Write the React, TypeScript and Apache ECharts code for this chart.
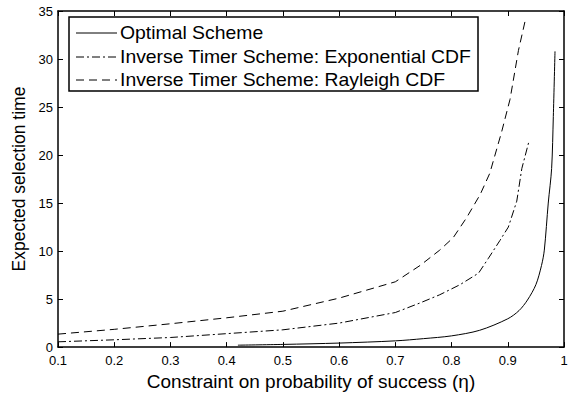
import React, { useEffect, useRef } from "react";
import * as echarts from "echarts";

const xTicks = [0.1, 0.2, 0.3, 0.4, 0.5, 0.6, 0.7, 0.8, 0.9, 1];
const yTicks = [0, 5, 10, 15, 20, 25, 30, 35];

const seriesNames = [
  "Optimal Scheme",
  "Inverse Timer Scheme: Exponential CDF",
  "Inverse Timer Scheme: Rayleigh CDF",
];

const optimalX = [0.42, 0.5, 0.6, 0.7, 0.75, 0.8, 0.85, 0.9, 0.92, 0.935, 0.95, 0.96, 0.965, 0.972, 0.978, 0.981, 0.984];
const optimalY = [0.2, 0.28, 0.42, 0.65, 0.88, 1.17, 1.75, 2.95, 3.8, 4.9, 6.5, 8.5, 10.1, 15, 18.6, 24, 30.8];

const expX = [0.1, 0.2, 0.3, 0.4, 0.5, 0.6, 0.7, 0.744, 0.779, 0.815, 0.848, 0.865, 0.886, 0.901, 0.916, 0.925, 0.938];
const expY = [0.55, 0.76, 1.0, 1.4, 1.8, 2.5, 3.6, 4.6, 5.45, 6.5, 7.7, 9.2, 11.1, 12.5, 15.2, 18.6, 21.5];

const rayX = [0.1, 0.2, 0.3, 0.4, 0.5, 0.6, 0.7, 0.744, 0.779, 0.803, 0.827, 0.851, 0.868, 0.889, 0.904, 0.919, 0.931];
const rayY = [1.35, 1.85, 2.43, 3.05, 3.74, 5.1, 6.8, 8.5, 10.1, 11.4, 13.5, 15.9, 18.1, 22.4, 25.8, 30.9, 34.0];

const FONT = "'Liberation Sans', Arial, Helvetica, sans-serif";

const zip = (xs: number[], ys: number[]) => xs.map((x, i) => [x, ys[i]]);

const dashStyles: (string | number[])[] = ["solid", [8, 3, 2, 3], [8, 5]];

export default function App() {
  const ref = useRef<HTMLDivElement>(null);
  useEffect(() => {
    if (!ref.current) return;
    const chart = echarts.init(ref.current, null, { renderer: "svg" });
    const axisCommon = {
      type: "value" as const,
      axisLine: { show: true, onZero: false, lineStyle: { color: "#000", width: 1.5 } },
      axisTick: { show: true, inside: true, length: 5, lineStyle: { color: "#000", width: 1 } },
      splitLine: { show: false },
    };
    const legendX = 69, legendY = 17, legendW = 409, legendH = 74;
    const rowY = [33, 57, 80];
    const legendGraphics: any[] = [
      {
        type: "rect",
        shape: { x: legendX, y: legendY, width: legendW, height: legendH },
        style: { fill: "#fff", stroke: "#000", lineWidth: 1.5 },
        z: 100,
      },
    ];
    seriesNames.forEach((name, i) => {
      legendGraphics.push({
        type: "line",
        shape: { x1: 76, y1: rowY[i], x2: 117, y2: rowY[i] },
        style: { stroke: "#000", lineWidth: 1, lineDash: dashStyles[i] === "solid" ? null : dashStyles[i] },
        z: 101,
      });
      legendGraphics.push({
        type: "text",
        x: 120,
        y: rowY[i],
        scaleX: 1.077,
        style: { text: name, font: `18px ${FONT}`, fill: "#000", verticalAlign: "middle", align: "left" },
        z: 101,
      });
    });
    const datasets = [zip(optimalX, optimalY), zip(expX, expY), zip(rayX, rayY)];
    chart.setOption({
      animation: false,
      textStyle: { fontFamily: FONT },
      grid: { left: 58, right: 17, top: 11, bottom: 45, show: false },
      xAxis: [
        {
          ...axisCommon,
          min: xTicks[0],
          max: xTicks[xTicks.length - 1],
          interval: 0.1,
          position: "bottom",
          axisLabel: {
            color: "#000",
            fontSize: 13,
            margin: 7,
            fontFamily: FONT,
            formatter: (v: number) => String(Math.round(v * 10) / 10),
          },
          name: "Constraint on probability of success (η)",
          nameLocation: "middle",
          nameGap: 20,
          nameTextStyle: { color: "#000", fontSize: 19, fontFamily: FONT },
        },
        {
          ...axisCommon,
          min: xTicks[0],
          max: xTicks[xTicks.length - 1],
          interval: 0.1,
          position: "top",
          axisLabel: { show: false },
        },
      ],
      yAxis: [
        {
          ...axisCommon,
          min: yTicks[0],
          max: yTicks[yTicks.length - 1],
          interval: 5,
          position: "left",
          axisLabel: { color: "#000", fontSize: 13, margin: 5, fontFamily: FONT },
          name: "Expected selection time",
          nameLocation: "middle",
          nameGap: 26,
          nameTextStyle: { color: "#000", fontSize: 17.5, fontFamily: FONT },
        },
        {
          ...axisCommon,
          min: yTicks[0],
          max: yTicks[yTicks.length - 1],
          interval: 5,
          position: "right",
          axisLabel: { show: false },
        },
      ],
      series: seriesNames.map((name, i) => ({
        name,
        type: "line",
        data: datasets[i],
        smooth: i === 0 ? 0.3 : false,
        showSymbol: false,
        symbol: "none",
        lineStyle: { color: "#000", width: 1, type: dashStyles[i] },
        z: 5,
      })),
      graphic: legendGraphics,
    });
    return () => chart.dispose();
  }, []);
  return <div ref={ref} style={{ width: 581, height: 396, position: "absolute", left: 0, top: 0 }} />;
}
